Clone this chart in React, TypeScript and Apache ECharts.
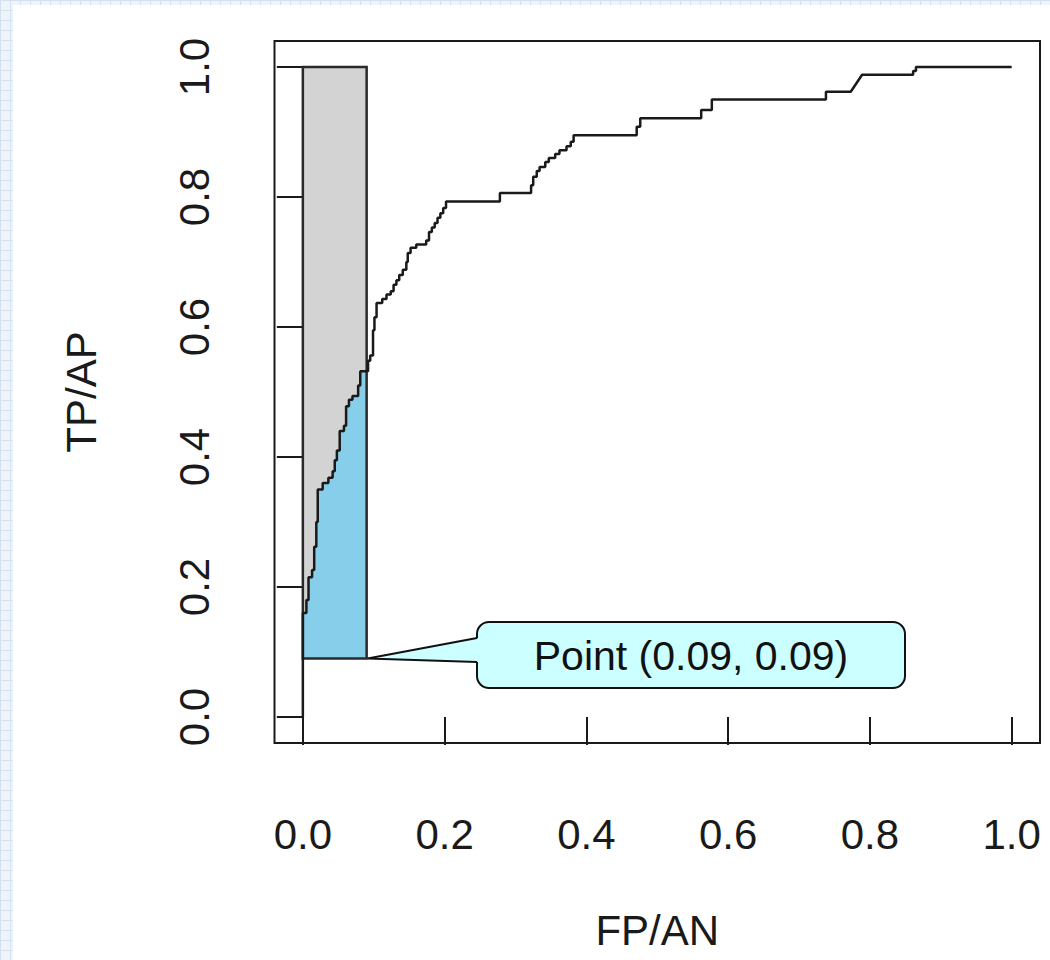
import React, { useEffect, useRef } from "react";
import * as echarts from "echarts";

// Axis ticks (R-style: data range padded by 4% on both sides)
const xTicks = [0, 0.2, 0.4, 0.6, 0.8, 1.0];
const yTicks = [0, 0.2, 0.4, 0.6, 0.8, 1.0];
const xName = "FP/AN";
const yName = "TP/AP";

// Highlighted operating point
const pointX = 0.09;
const pointY = 0.09;

// ROC curve vertices (false positive rate / true positive rate)
const rocFpr = [
  0, 0, 0.005, 0.005, 0.008, 0.008, 0.013, 0.013, 0.016, 0.016, 0.019, 0.019,
  0.021, 0.021, 0.028, 0.028, 0.036, 0.036, 0.042, 0.042, 0.045, 0.045, 0.048,
  0.048, 0.052, 0.052, 0.058, 0.058, 0.061, 0.061, 0.065, 0.065, 0.07, 0.07,
  0.078, 0.078, 0.081, 0.081, 0.092, 0.092, 0.095, 0.095, 0.099, 0.099, 0.101,
  0.101, 0.104, 0.104, 0.112, 0.112, 0.118, 0.118, 0.124, 0.124, 0.128, 0.128,
  0.132, 0.132, 0.136, 0.136, 0.141, 0.141, 0.146, 0.146, 0.148, 0.148, 0.152,
  0.152, 0.16, 0.16, 0.174, 0.174, 0.178, 0.178, 0.182, 0.182, 0.186, 0.186,
  0.19, 0.19, 0.194, 0.194, 0.198, 0.198, 0.202, 0.202, 0.278, 0.278, 0.322,
  0.322, 0.325, 0.325, 0.33, 0.33, 0.334, 0.334, 0.342, 0.342, 0.347, 0.347,
  0.356, 0.356, 0.362, 0.362, 0.372, 0.372, 0.378, 0.378, 0.382, 0.382, 0.471,
  0.471, 0.476, 0.476, 0.562, 0.562, 0.577, 0.577, 0.738, 0.738, 0.773, 0.789,
  0.861, 0.861, 0.865, 0.865, 1.0,
];
const rocTpr = [
  0, 0.16, 0.16, 0.18, 0.18, 0.215, 0.215, 0.226, 0.226, 0.262, 0.262, 0.3,
  0.3, 0.35, 0.35, 0.36, 0.36, 0.368, 0.368, 0.378, 0.378, 0.395, 0.395, 0.41,
  0.41, 0.44, 0.44, 0.448, 0.448, 0.478, 0.478, 0.488, 0.488, 0.494, 0.494,
  0.51, 0.51, 0.532, 0.532, 0.548, 0.548, 0.556, 0.556, 0.595, 0.595, 0.615,
  0.615, 0.637, 0.637, 0.643, 0.643, 0.65, 0.65, 0.655, 0.655, 0.665, 0.665,
  0.672, 0.672, 0.68, 0.68, 0.688, 0.688, 0.7, 0.7, 0.714, 0.714, 0.722, 0.722,
  0.727, 0.727, 0.733, 0.733, 0.746, 0.746, 0.753, 0.753, 0.76, 0.76, 0.768,
  0.768, 0.775, 0.775, 0.783, 0.783, 0.793, 0.793, 0.806, 0.806, 0.818, 0.818,
  0.831, 0.831, 0.84, 0.84, 0.846, 0.846, 0.854, 0.854, 0.86, 0.86, 0.866,
  0.866, 0.872, 0.872, 0.878, 0.878, 0.885, 0.885, 0.895, 0.895, 0.908, 0.908,
  0.921, 0.921, 0.934, 0.934, 0.95, 0.95, 0.962, 0.962, 0.988, 0.988, 0.994,
  0.994, 1.0, 1.0,
];

const FONT = "'Liberation Sans', Arial, Helvetica, sans-serif";
const INK = "#1a1a1a";

// Partial-area polygon: under the curve, right of x=0, above y=pointY, left of x=pointX
function partialAreaPolygon(): number[][] {
  const pts: number[][] = [[0, pointY]];
  let yAtEdge = pointY;
  for (let i = 0; i < rocFpr.length; i++) {
    const x = rocFpr[i];
    const y = rocTpr[i];
    if (x <= pointX) {
      yAtEdge = y;
      if (y > pointY) pts.push([x, y]);
    }
  }
  pts.push([pointX, yAtEdge]);
  pts.push([pointX, pointY]);
  return pts;
}

export default function App() {
  const ref = useRef<HTMLDivElement>(null);

  useEffect(() => {
    document.body.style.margin = "0";
    const chart = echarts.init(ref.current!, null, { renderer: "svg" });
    const areaPts = partialAreaPolygon();
    const curve = rocFpr.map((x, i) => [x, rocTpr[i]]);

    chart.setOption({
      animation: false,
      backgroundColor: "transparent",
      grid: {
        left: 274.5,
        right: 10,
        top: 41,
        bottom: 217,
        outerBoundsMode: "none",
        containLabel: false,
        show: true,
        borderColor: INK,
        borderWidth: 2,
        backgroundColor: "transparent",
      },
      xAxis: {
        type: "value",
        min: -0.04,
        max: 1.04,
        name: xName,
        nameLocation: "middle",
        nameGap: 166,
        nameTextStyle: { fontSize: 42, lineHeight: 42, fontFamily: FONT, color: INK },
        axisLine: { show: false },
        axisTick: {
          show: true,
          customValues: xTicks,
          length: 28,
          lineStyle: { color: INK, width: 2 },
        },
        axisLabel: {
          customValues: xTicks,
          formatter: (v: number) => v.toFixed(1),
          margin: 70,
          fontSize: 42,
          fontFamily: FONT,
          color: INK,
        },
        splitLine: { show: false },
      },
      yAxis: {
        type: "value",
        min: -0.04,
        max: 1.04,
        name: yName,
        nameLocation: "middle",
        nameGap: 172,
        nameTextStyle: { fontSize: 42, fontFamily: FONT, color: INK },
        axisLine: { show: false },
        axisTick: {
          show: true,
          customValues: yTicks,
          length: 26,
          lineStyle: { color: INK, width: 2 },
        },
        axisLabel: {
          customValues: yTicks,
          formatter: (v: number) => v.toFixed(1),
          rotate: 90,
          margin: 59,
          fontSize: 42,
          fontFamily: FONT,
          color: INK,
        },
        splitLine: { show: false },
      },
      series: [
        {
          type: "custom",
          z: 2,
          silent: true,
          data: [[pointX, pointY]],
          renderItem: (_params: any, api: any) => {
            const tl = api.coord([0, 1.0]);
            const br = api.coord([pointX, pointY]);
            const rectShape = {
              x: tl[0],
              y: tl[1],
              width: br[0] - tl[0],
              height: br[1] - tl[1],
            };
            return {
              type: "group",
              children: [
                { type: "rect", shape: rectShape, style: { fill: "#d3d3d3", stroke: "none" } },
                {
                  type: "polygon",
                  shape: { points: areaPts.map((p) => api.coord(p)) },
                  style: { fill: "#87ceeb", stroke: "none" },
                },
                {
                  type: "rect",
                  shape: rectShape,
                  style: { fill: "none", stroke: "#2a2a2a", lineWidth: 2.5 },
                },
              ],
            };
          },
        },
        {
          type: "line",
          z: 3,
          data: curve,
          showSymbol: false,
          symbol: "none",
          silent: true,
          lineStyle: { color: INK, width: 2.5 },
        },
      ],
    });

    // Callout box pointing at the operating point
    const tip = chart.convertToPixel({ gridIndex: 0 }, [pointX, pointY]) as number[];
    const boxX = 477;
    const boxY = 622;
    const boxW = 428;
    const boxH = 66;
    chart.setOption({
      graphic: [
        {
          type: "rect",
          z: 10,
          shape: { x: boxX, y: boxY, width: boxW, height: boxH, r: 12 },
          style: { fill: "#ccffff", stroke: "#111", lineWidth: 2 },
        },
        {
          type: "polygon",
          z: 11,
          shape: {
            points: [
              [boxX + 2, boxY + 16],
              [tip[0] + 2, tip[1]],
              [boxX + 2, boxY + 40],
            ],
          },
          style: { fill: "#ccffff", stroke: "none" },
        },
        {
          type: "polyline",
          z: 12,
          shape: {
            points: [
              [boxX, boxY + 16],
              [tip[0] + 1, tip[1]],
              [boxX, boxY + 40],
            ],
          },
          style: { fill: "none", stroke: "#111", lineWidth: 2 },
        },
        {
          type: "text",
          z: 13,
          x: boxX + boxW / 2,
          y: boxY + boxH / 2 + 1,
          style: {
            text: `Point (${pointX.toFixed(2)}, ${pointY.toFixed(2)})`,
            fontSize: 41,
            fontFamily: FONT,
            fill: "#111",
            align: "center",
            verticalAlign: "middle",
          },
        },
      ],
    });

    return () => chart.dispose();
  }, []);

  return (
    <div
      style={{
        position: "relative",
        width: 1050,
        height: 960,
        backgroundColor: "#eef4fb",
        backgroundImage:
          "linear-gradient(#d5e1ee 1px, transparent 1px), linear-gradient(90deg, #d5e1ee 1px, transparent 1px)",
        backgroundSize: "10px 10px",
        overflow: "hidden",
      }}
    >
      <div
        style={{
          position: "absolute",
          left: 13,
          top: 5,
          right: 0,
          bottom: 0,
          background: "#ffffff",
        }}
      />
      <div
        ref={ref}
        style={{ position: "absolute", left: 0, top: 0, width: 1050, height: 960 }}
      />
    </div>
  );
}
